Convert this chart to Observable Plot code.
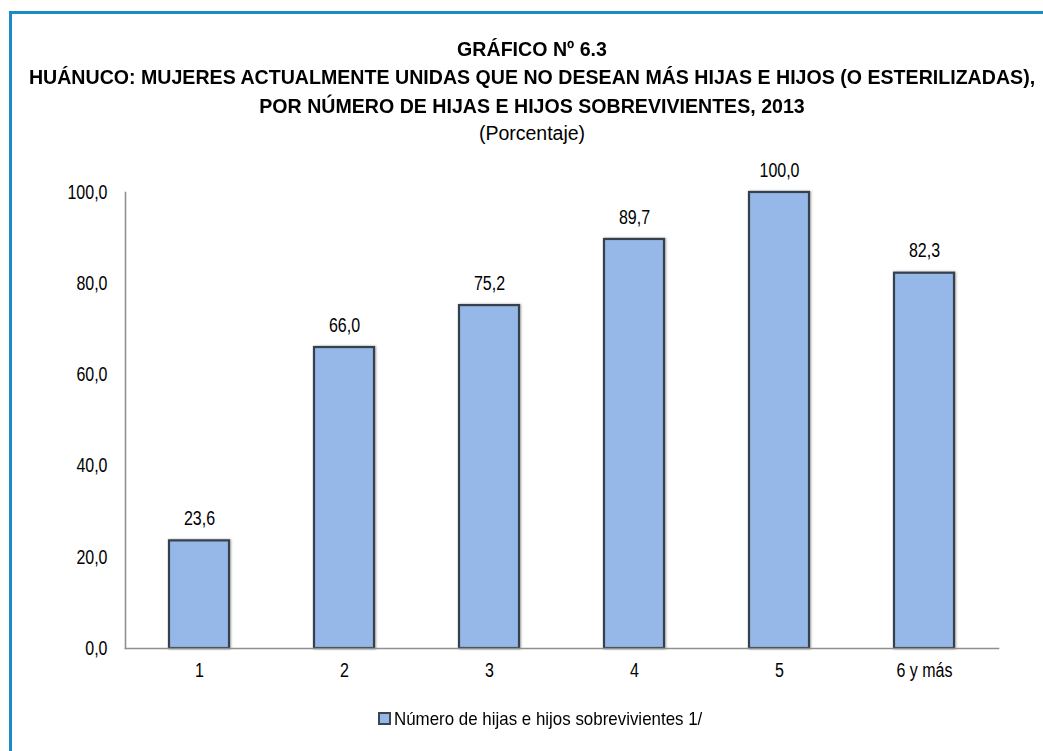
<!DOCTYPE html>
<html>
<head>
<meta charset="utf-8">
<script src="https://cdn.jsdelivr.net/npm/d3@7"></script>
<script src="https://cdn.jsdelivr.net/npm/@observablehq/plot@0.6"></script>
<style>
  body { margin: 0; background: #fff; }
  #page {
    position: relative; width: 1043px; height: 751px; overflow: hidden;
    font-family: "Liberation Sans", Arial, sans-serif;
    color: #000;
  }
  #frame {
    position: absolute; left: 9px; top: 11px; width: 1200px; height: 900px;
    border-left: 3px solid #1b8bc5; border-top: 3px solid #1b8bc5;
  }
  #header { position: absolute; left: 21px; top: 0; width: 1022px; height: 160px; }
  .line { position: absolute; left: -200px; width: 1422px; text-align: center; white-space: nowrap; line-height: 1; }
  .bold { font-weight: bold; font-size: 21px; transform: scaleX(0.933); transform-origin: 50% 50%; }
  .sub { font-size: 19.5px; }
  #chart { position: absolute; left: 0; top: 160px; }
  #legend { position: absolute; left: 378px; top: 709px; font-size: 19px; line-height: 1; white-space: nowrap; }
  #legend .sw {
    position: absolute; left: 0; top: 3px; width: 9px; height: 9px;
    border: 2px solid #3b4652; box-sizing: content-box;
  }
  #legend .lbl { position: absolute; left: 16px; top: 0; transform-origin: 0 50%; transform: scaleX(0.89); }
</style>
</head>
<body>
<div id="page">
  <div id="frame"></div>
  <div id="header">
    <div class="line bold" style="top:38px">GRÁFICO Nº 6.3</div>
    <div class="line bold" style="top:66px">HUÁNUCO: MUJERES ACTUALMENTE UNIDAS QUE NO DESEAN MÁS HIJAS E HIJOS (O ESTERILIZADAS),</div>
    <div class="line bold" style="top:95px">POR NÚMERO DE HIJAS E HIJOS SOBREVIVIENTES, 2013</div>
    <div class="line sub" style="top:124px">(Porcentaje)</div>
  </div>
  <div id="chart"></div>
  <div id="legend"><span class="sw"></span><span class="lbl"></span></div>
</div>
<script>
// Number of surviving children (categories) and share of women wanting no more (%)
const categories = ["1", "2", "3", "4", "5", "6 y más"];
const values = [23.6, 66.0, 75.2, 89.7, 100.0, 82.3];
const yTicks = [0, 20, 40, 60, 80, 100];
const seriesName = "Número de hijas e hijos sobrevivientes 1/";

const barFill = "#95b8e9";
const barStroke = "#37414c";
const axisColor = "#8f8f8f";
const labelSize = 19.5;
const squeeze = 0.82; // horizontal condensing of chart labels

const data = categories.map((c, i) => ({ cat: c, value: values[i] }));
const fmt = v => v.toFixed(1).replace(".", ",");

const chart = Plot.plot({
  width: 1043,
  height: 540,
  marginTop: 32,
  marginBottom: 52,
  marginLeft: 125,
  marginRight: 45,
  style: {
    fontFamily: '"Liberation Sans", Arial, sans-serif',
    fontSize: labelSize + "px",
    color: "#000",
    background: "transparent"
  },
  x: { domain: categories, paddingInner: 0.588, paddingOuter: 0.294, label: null },
  y: { domain: [0, 100], label: null },
  marks: [
    Plot.axisY({ ticks: yTicks, tickFormat: fmt, tickSize: 0, tickPadding: 18, fontSize: labelSize, label: null }),
    Plot.axisX({ tickSize: 0, tickPadding: 15, fontSize: labelSize, label: null }),
    Plot.barY(data, { x: "cat", y: "value", fill: barFill, stroke: barStroke, strokeWidth: 2.2 }),
    Plot.frame({ anchor: "left", stroke: axisColor, strokeWidth: 1.6 }),
    Plot.frame({ anchor: "bottom", stroke: axisColor, strokeWidth: 1.6 }),
    Plot.text(data, { x: "cat", y: "value", text: d => fmt(d.value), lineAnchor: "middle", dy: -22, fontSize: labelSize })
  ]
});

// soft shadow around the bars
d3.select(chart).selectAll('g[aria-label="bar"]').style("filter", "drop-shadow(1px 0px 1px rgba(0,0,0,0.35))");

// condense every label around its own anchor point
chart.querySelectorAll("text").forEach(t => {
  const tr = t.getAttribute("transform") || "";
  t.setAttribute("transform", (tr + ` scale(${squeeze},1)`).trim());
  if (t.hasAttribute("x")) t.setAttribute("x", +t.getAttribute("x") / squeeze);
});

document.getElementById("chart").appendChild(chart);

document.querySelector("#legend .sw").style.background = barFill;
document.querySelector("#legend .lbl").textContent = seriesName;
</script>
</body>
</html>
